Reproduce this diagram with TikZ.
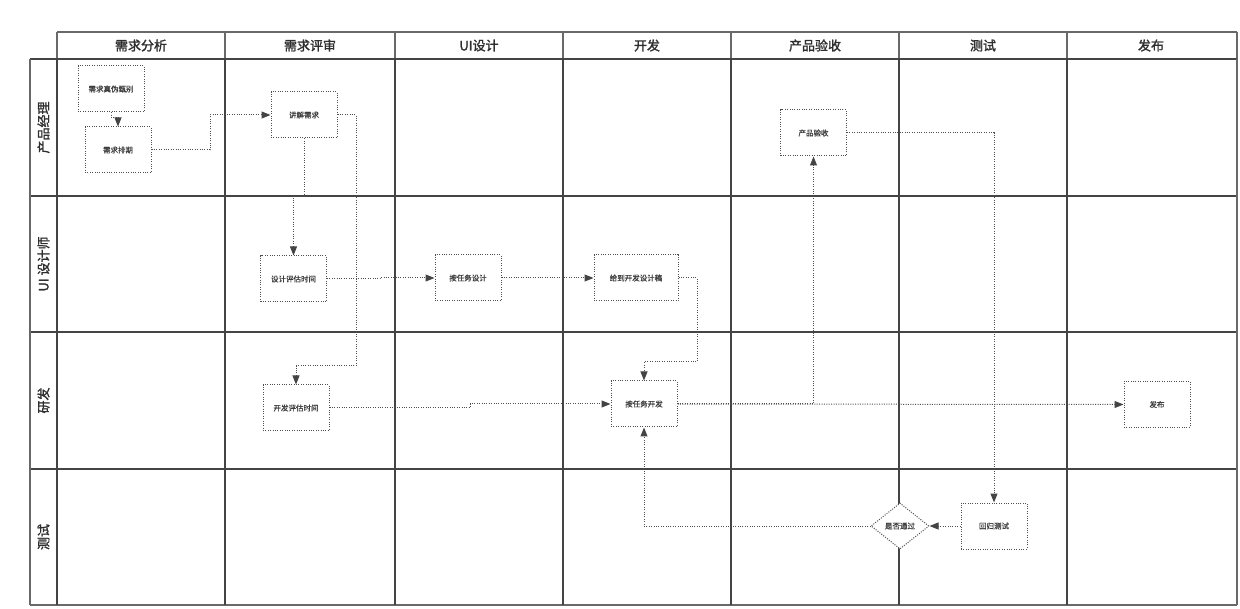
\documentclass[tikz,border=0pt]{standalone}
\usepackage{fontspec}
\setmainfont{Noto Sans CJK SC}
\newfontfamily\hdfont[FakeBold=1.6]{Noto Sans CJK SC}
\newfontfamily\ndfont[FakeBold=0.7]{Noto Sans CJK SC}
\usetikzlibrary{shapes.geometric,arrows.meta}
\definecolor{grid}{HTML}{444444}
\definecolor{dot}{HTML}{4E4E4E}
\definecolor{txt}{HTML}{2E2E2E}
\definecolor{ntxt}{HTML}{3C3C3C}
\begin{document}
\begin{tikzpicture}[x=1pt,y=-1pt,
  gridline/.style={draw=grid,line width=1.6pt},
  thinline/.style={draw=grid!80,line width=1.1pt},
  head/.style={font=\hdfont\fontsize{13}{13}\selectfont,text=txt},
  lane/.style={font=\hdfont\fontsize{13}{13}\selectfont,text=txt,rotate=90},
  dotline/.style={draw=dot,line width=1pt,dash pattern=on 1pt off 1.4pt},
  box/.style={dotline,fill=white,minimum width=66pt,minimum height=46pt,inner sep=0pt,font=\ndfont\fontsize{7.5}{7.5}\selectfont,text=ntxt},
  dia/.style={diamond,aspect=1.26,dotline,fill=white,minimum width=58pt,minimum height=46pt,inner sep=0pt,font=\ndfont\fontsize{7.5}{7.5}\selectfont,text=ntxt},
  conn/.style={dotline,-{Triangle[length=9pt,width=7pt,fill=grid,color=grid]}}]
\useasboundingbox (0,0) rectangle (1240,609);
% grid
\draw[thinline] (57,32) -- (1237,32);
\foreach \x in {57,225,395,563,731,899,1067,1237} \draw[thinline] (\x,32) -- (\x,59);
\draw[gridline] (30,59) -- (1237,59);
\foreach \y in {196,332,469} \draw[gridline] (30,\y) -- (1237,\y);
\draw[thinline] (30,605) -- (1237,605);
\draw[thinline] (30,59) -- (30,605);
\foreach \x in {57,225,395,563,731,899,1067} \draw[gridline] (\x,59) -- (\x,605);
\draw[thinline] (1237,59) -- (1237,605);
% headers
\node[head] (h1) at (141,45.5) {需求分析};
\node[head] (h2) at (310,45.5) {需求评审};
\node[head] (h3) at (479,45.5) {UI设计};
\node[head] (h4) at (647,45.5) {开发};
\node[head] (h5) at (815,45.5) {产品验收};
\node[head] (h6) at (983,45.5) {测试};
\node[head] (h7) at (1151,45.5) {发布};
\node[lane] (l1) at (43.5,127.5) {产品经理};
\node[lane] (l2) at (43.5,264) {UI 设计师};
\node[lane] (l3) at (43.5,400.5) {研发};
\node[lane] (l4) at (43.5,537) {测试};
% nodes
\node[box] (zhen) at (111,89) {需求真伪甄别};
\node[box] (paiqi) at (118,150) {需求排期};
\node[box] (jj) at (304,115) {讲解需求};
\node[box] (sj) at (293.5,279) {设计评估时间};
\node[box] (kf) at (296,408) {开发评估时间};
\node[box] (rw) at (468,278) {按任务设计};
\node[box,minimum width=84pt] (gk) at (636,278) {给到开发设计稿};
\node[box] (kfa) at (644,404) {按任务开发};
\node[box] (ys) at (813.5,133) {产品验收};
\node[box] (fb) at (1157,404.5) {发布};
\node[box] (hg) at (994,526) {回归测试};
\node[dia] (sf) at (900,526) {是否通过};
% connectors
\draw[conn] (zhen.south) -- ++(0,5) -| (paiqi.north);
\draw[conn] (paiqi.east) -- (210,150) |- (jj.west);
\draw[conn] (jj.south) -- (304,197) -| (sj.north);
\draw[conn] (jj.east) -- (356,115) -- (356,366) -| (kf.north);
\draw[conn] (sj.east) -- (380,279) |- (rw.west);
\draw[conn] (rw.east) -- (gk.west);
\draw[conn] (gk.east) -- (697,278) -- (697,362) -| (kfa.north);
\draw[conn] (kf.east) -- (470,408) |- (kfa.west);
\draw[conn] (kfa.east) -- (fb.west);
\draw[conn] (kfa.east) -| (ys.south);
\draw[conn] (ys.east) -| (hg.north);
\draw[conn] (hg.west) -- (sf.east);
\draw[conn] (sf.west) -| (kfa.south);
\end{tikzpicture}
\end{document}
